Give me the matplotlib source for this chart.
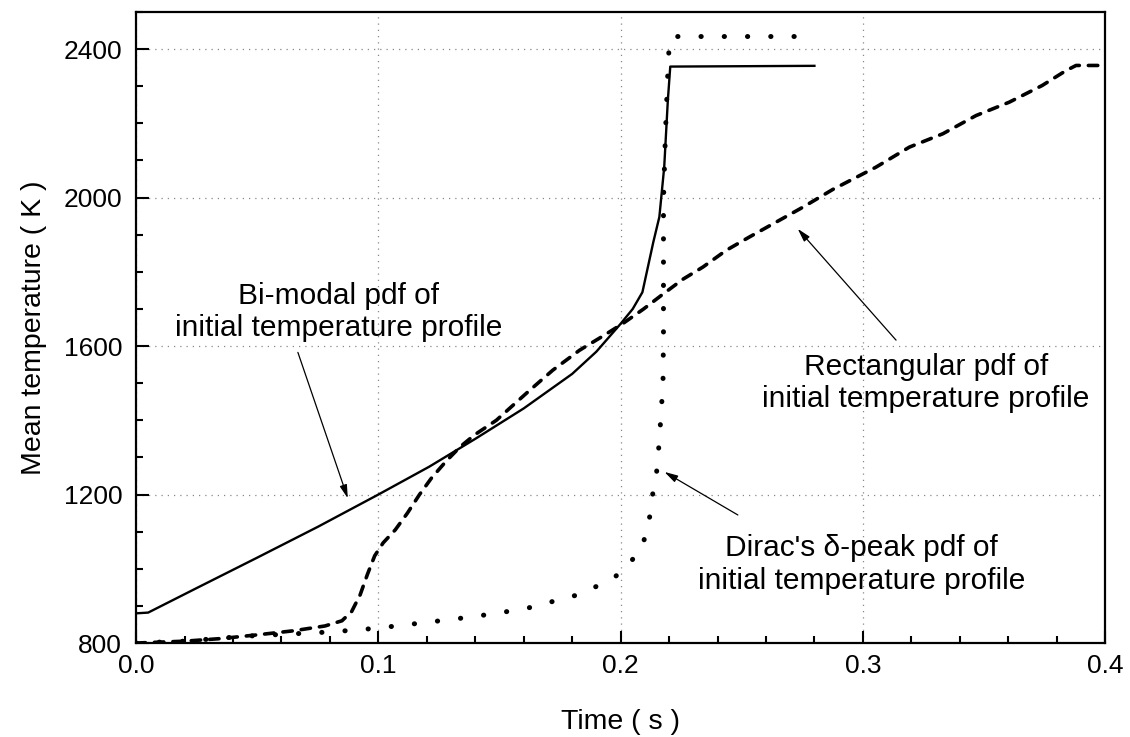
import matplotlib
matplotlib.use("Agg")
import matplotlib.pyplot as plt
from matplotlib.ticker import MultipleLocator

plt.rcParams['font.family'] = ['Liberation Sans', 'DejaVu Sans']

# Bi-modal pdf of initial temperature profile (solid)
bimodal_t = [0.0, 0.005, 0.025, 0.05, 0.075, 0.1, 0.121, 0.14, 0.16,
             0.18, 0.19, 0.2, 0.205, 0.209, 0.2105, 0.2135, 0.216, 0.218,
             0.2195, 0.2205, 0.28]
bimodal_T = [880, 882, 948, 1030, 1113, 1200, 1275, 1350, 1432,
             1525, 1585, 1660, 1700, 1745, 1790, 1880, 1948, 2082,
             2262, 2353, 2355]

# Rectangular pdf of initial temperature profile (dashed)
rect_t = [0.0, 0.02, 0.035, 0.05, 0.065, 0.078, 0.085, 0.089, 0.0925,
          0.0955, 0.0985, 0.102, 0.107, 0.112, 0.117, 0.122, 0.128, 0.134,
          0.14, 0.1487, 0.1555, 0.1625, 0.172, 0.1831, 0.1927, 0.2012, 0.2095,
          0.2175, 0.2257, 0.234, 0.2436, 0.2532, 0.2642, 0.2752, 0.2876,
          0.3054, 0.3192, 0.333, 0.3467, 0.3604, 0.374, 0.3838, 0.388, 0.4]
rect_T = [800, 805, 812, 822, 833, 846, 860, 885, 930,
          985, 1035, 1070, 1105, 1150, 1200, 1245, 1290, 1330,
          1362, 1400, 1440, 1481, 1535, 1589, 1627, 1662, 1700,
          1740, 1780, 1813, 1858, 1894, 1934, 1974, 2022,
          2082, 2136, 2172, 2221, 2257, 2302, 2342, 2356, 2356]

# Dirac's delta-peak pdf of initial temperature profile (dotted)
dirac_t = [0.0, 0.02, 0.044, 0.0807, 0.0958, 0.1034, 0.132, 0.1467, 0.161,
           0.183, 0.197, 0.2037, 0.2092, 0.212, 0.2133, 0.2147, 0.216, 0.2175,
           0.2177, 0.2177, 0.2177, 0.2185, 0.2195, 0.2199, 0.2209, 0.279]
dirac_T = [800, 805, 818, 830, 838, 843, 865, 878, 893,
           931, 974, 1014, 1064, 1140, 1203, 1248, 1346, 1499,
           1634, 1813, 1992, 2172, 2338, 2392, 2434, 2434]

x_ticks = [0.0, 0.1, 0.2, 0.3, 0.4]
x_tick_labels = ['0.0', '0.1', '0.2', '0.3', '0.4']
y_ticks = [800, 1200, 1600, 2000, 2400]

fig = plt.figure(figsize=(11.3, 7.37), dpi=100)
ax = fig.add_axes([0.1204, 0.1275, 0.8576, 0.8562])

ax.plot(bimodal_t, bimodal_T, color='black', lw=1.7, solid_joinstyle='round')
ax.plot(rect_t, rect_T, color='black', lw=2.6, linestyle=(0, (2.6, 2.5)),
        dash_capstyle='round')
ax.plot(dirac_t, dirac_T, color='black', lw=3.6, linestyle=(0, (0.05, 4.6)),
        dash_capstyle='round')

ax.set_xlim(0.0, 0.4)
ax.set_ylim(800, 2500)
ax.set_xticks(x_ticks)
ax.set_xticklabels(x_tick_labels)
ax.set_yticks(y_ticks)
ax.xaxis.set_minor_locator(MultipleLocator(0.02))
ax.yaxis.set_minor_locator(MultipleLocator(100))

ax.tick_params(which='both', direction='in', top=False, right=False,
               width=1.5, labelsize=19)
ax.tick_params(which='major', length=9)
ax.tick_params(which='minor', length=5)
ax.tick_params(axis='x', which='major', pad=8)
ax.tick_params(axis='y', which='major', pad=10)

for s in ax.spines.values():
    s.set_linewidth(1.6)

ax.grid(True, which='major', color='#888888', lw=0.9, linestyle=(0, (1, 4)))

ax.set_xlabel('Time ( s )', fontsize=20.5, labelpad=22)
ax.set_ylabel('Mean temperature ( K )', fontsize=20.5, labelpad=12)

arrow = dict(arrowstyle='-|>,head_length=0.8,head_width=0.22', color='black',
             lw=0.9, shrinkA=0, shrinkB=0)

ax.text(0.0835, 1692, 'Bi-modal pdf of\ninitial temperature profile',
        ha='center', va='center', fontsize=21.5, linespacing=1.15)
ax.annotate('', xy=(0.0874, 1190), xytext=(0.0668, 1583), arrowprops=arrow)

ax.text(0.326, 1500, 'Rectangular pdf of\ninitial temperature profile',
        ha='center', va='center', fontsize=21.5, linespacing=1.2)
ax.annotate('', xy=(0.2731, 1916), xytext=(0.3137, 1616), arrowprops=arrow)

ax.text(0.2995, 1012, "Dirac's δ-peak pdf of\ninitial temperature profile",
        ha='center', va='center', fontsize=21.5, linespacing=1.2)
ax.annotate('', xy=(0.2181, 1261), xytext=(0.2484, 1145), arrowprops=arrow)

fig.savefig('out.png', dpi=100)
